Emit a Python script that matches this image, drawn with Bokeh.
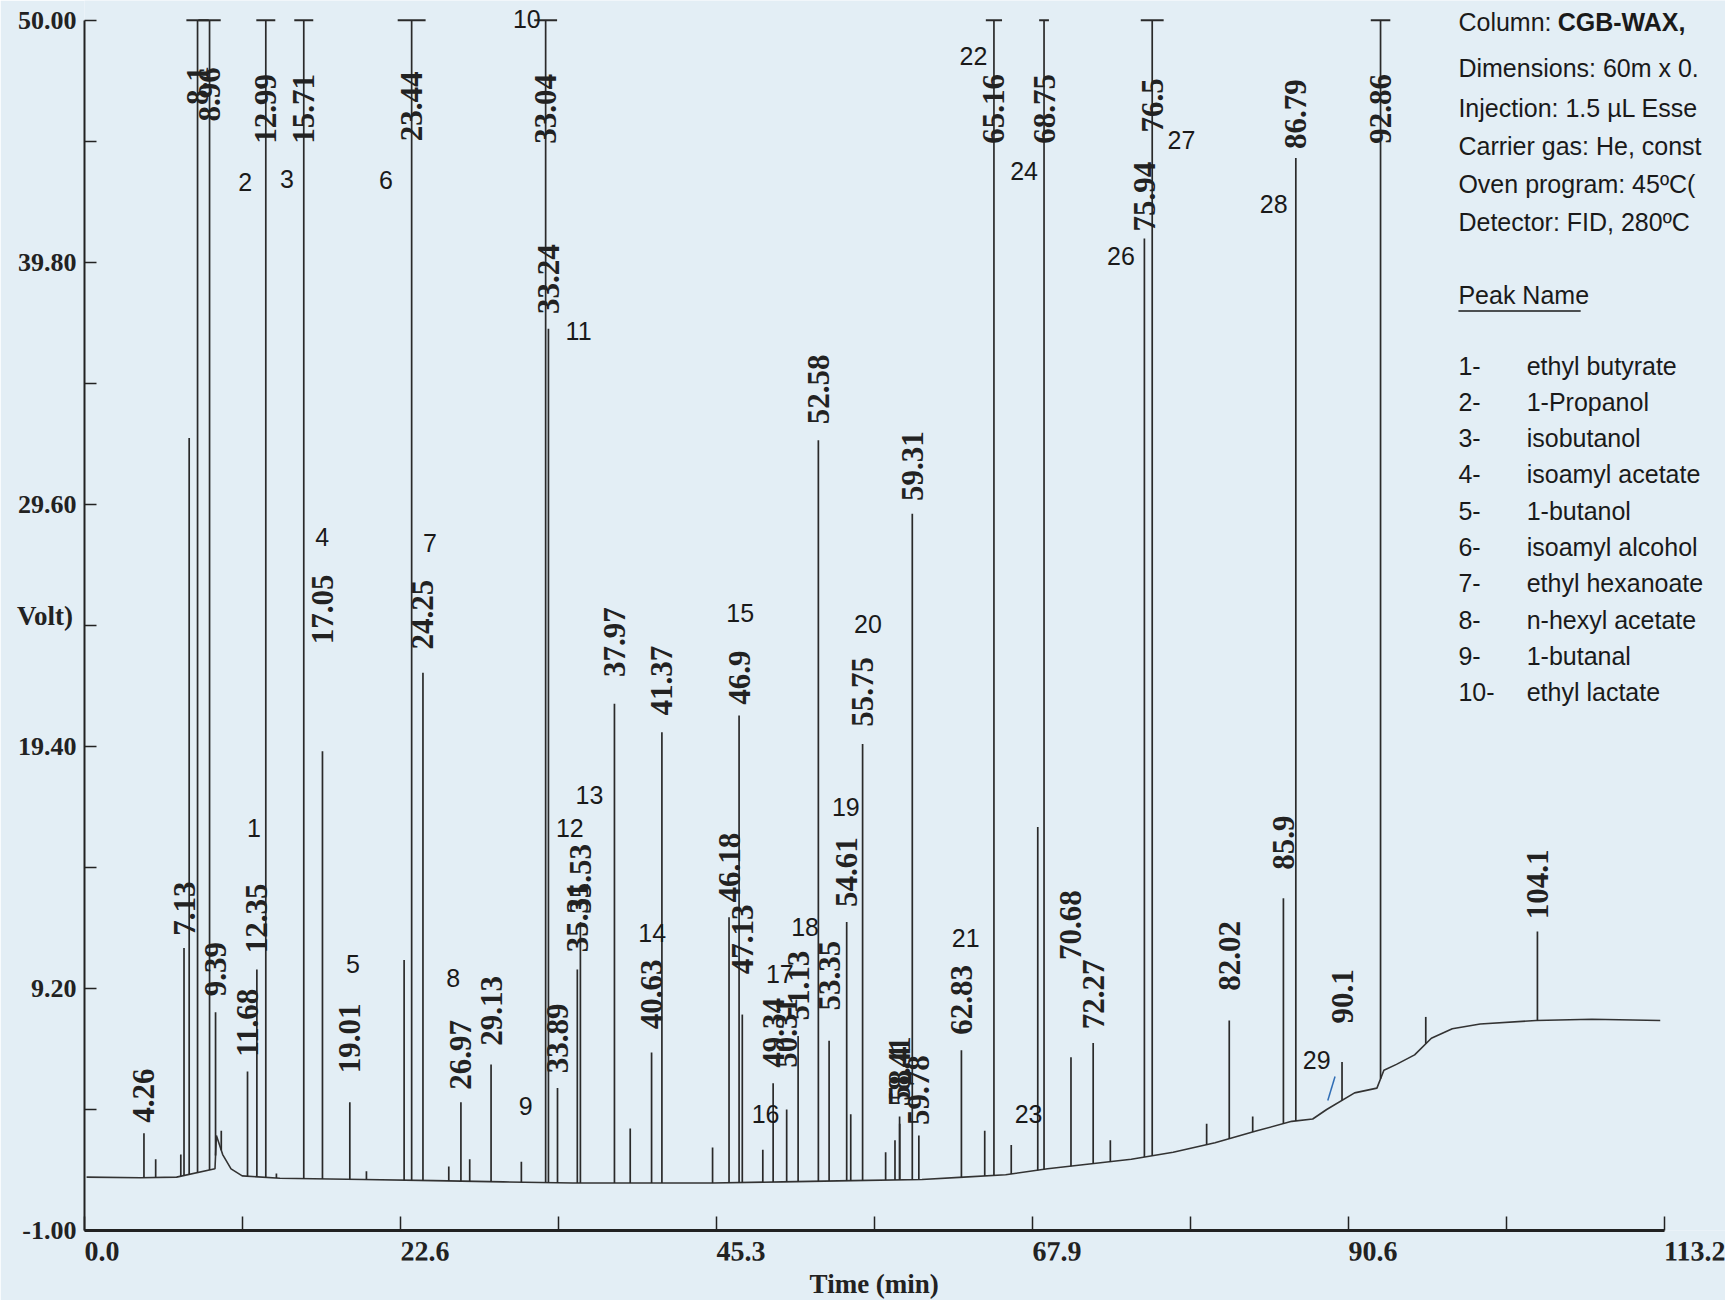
import numpy as np
from bokeh.plotting import figure
from bokeh.models import FixedTicker, Range1d, Title, PrintfTickFormatter
from bokeh.core.properties import value
from bokeh.embed import file_html
from bokeh.resources import INLINE

# ---------------- data ----------------
x_ticks = [0.0, 22.64, 45.28, 67.92, 90.56, 113.2]
x_tick_labels = ["0.0", "22.6", "45.3", "67.9", "90.6", "113.2"]
x_minor = [11.32, 33.96, 56.6, 79.24, 101.88]
y_ticks = [-1.0, 9.2, 19.4, 29.6, 39.8, 50.0]
y_tick_labels = ["-1.00", "9.20", "19.40", "29.60", "39.80", "50.00"]
y_minor = [4.1, 14.3, 24.5, 34.7, 44.9]
x_title = "Time (min)"
y_title = "Volt)"

# labelled peaks: retention time label and apex height (50 = off scale)
rt_labels = ["4.26", "7.13", "8.1", "8.96", "9.39", "11.68", "12.35", "12.99", "15.71", "17.05",
             "19.01", "23.44", "24.25", "26.97", "29.13", "33.04", "33.24", "33.89", "35.31", "35.53",
             "37.97", "40.63", "41.37", "46.18", "46.9", "47.13", "49.34", "50.31", "51.13", "52.58",
             "53.35", "54.61", "55.75", "58.4", "58.41", "59.31", "59.78", "62.83", "65.16", "68.75",
             "70.68", "72.27", "75.94", "76.5", "82.02", "85.9", "86.79", "90.1", "92.86", "104.1"]
rt_heights = [3.1, 10.9, 50.0, 50.0, 8.2, 5.7, 10.0, 50.0, 50.0, 19.2,
              4.4, 50.0, 22.5, 4.4, 6.0, 50.0, 37.0, 5.0, 10.0, 12.0,
              21.2, 6.5, 20.0, 12.2, 20.7, 8.1, 5.2, 4.1, 7.2, 32.3,
              7.0, 12.0, 19.5, 3.8, 3.5, 29.2, 3.0, 6.6, 50.0, 50.0,
              6.3, 6.9, 40.8, 50.0, 7.85, 13.0, 44.2, 6.1, 50.0, 11.6]

# unlabelled peaks
extra_times = [5.1, 6.9, 7.5, 9.8, 13.75, 20.2, 22.9, 26.1, 27.6, 31.3, 39.1, 45.0, 48.6,
               54.9, 57.4, 58.07, 64.5, 66.4, 68.3, 73.5, 80.4, 83.7, 96.1]
extra_heights = [2.0, 2.2, 32.4, 3.2, 1.4, 1.5, 10.4, 1.7, 2.0, 1.9, 3.3, 2.5, 2.4,
                 3.9, 2.3, 2.8, 3.2, 2.6, 16.0, 2.8, 3.5, 3.8, 8.0]

# baseline of the trace
base_times = [0.15, 4.0, 6.6, 9.35, 9.45, 9.9, 10.5, 11.3, 14.0, 20.0, 25.0, 30.0, 35.0, 40.0,
              45.0, 50.0, 55.0, 60.0, 63.0, 66.0, 69.0, 72.0, 75.0, 78.0, 81.0, 84.0, 86.5,
              88.0, 89.0, 91.0, 92.6, 93.1, 94.0, 95.3, 96.5, 98.0, 100.0, 104.0, 108.0, 112.9]
base_values = [1.25, 1.22, 1.25, 1.6, 3.0, 2.2, 1.6, 1.3, 1.2, 1.15, 1.1, 1.05, 1.0, 1.0,
               1.0, 1.05, 1.1, 1.15, 1.25, 1.35, 1.6, 1.8, 2.0, 2.3, 2.7, 3.2, 3.6,
               3.7, 4.1, 4.8, 5.0, 5.75, 6.0, 6.4, 7.1, 7.5, 7.7, 7.85, 7.9, 7.85]

peak_numbers = ["1", "2", "3", "4", "5", "6", "7", "8", "9", "10", "11", "12", "13", "14", "15",
                "16", "17", "18", "19", "20", "21", "22", "23", "24", "26", "27", "28", "29"]
peak_names = ["ethyl butyrate", "1-Propanol", "isobutanol", "isoamyl acetate", "1-butanol",
              "isoamyl alcohol", "ethyl hexanoate", "n-hexyl acetate", "1-butanal", "ethyl lactate"]
info_lines = ["Column: ", "Dimensions: 60m x 0.", "Injection: 1.5 \u00b5L Esse",
              "Carrier gas: He, const", "Oven program: 45\u00baC(", "Detector: FID, 280\u00baC"]
column_name = "CGB-WAX,"

# ---------------- layout / style ----------------
FULL = 50.0
BG = "#e3eef5"
INK = "#222222"
SERIF = "Liberation Serif"
SANS = "Liberation Sans"

# bottom of each rotated retention-time label (data units)
rt_label_y = [3.54, 11.42, 46.43, 45.73, 8.87, 6.32, 10.68, 44.8, 44.8, 23.71,
              5.63, 44.9, 23.48, 4.93, 6.79, 44.8, 37.62, 5.63, 10.73, 12.35,
              22.32, 7.48, 20.70, 12.82, 21.16, 9.80, 5.86, 5.86, 7.85, 32.98,
              8.27, 12.63, 20.23, 4.47, 4.24, 29.74, 3.45, 7.25, 44.8, 44.8,
              10.4, 7.48, 41.1, 45.27, 9.1, 14.2, 44.57, 7.72, 44.8, 12.12]
cap_half = {"8.1": 0.8, "8.96": 0.8, "12.99": 0.68, "15.71": 0.68, "23.44": 1.0,
            "33.04": 0.82, "65.16": 0.58, "68.75": 0.35, "76.5": 0.82, "92.86": 0.7}
num_x = [12.14, 11.51, 14.51, 17.03, 19.24, 21.6, 24.75, 26.41, 31.61, 31.69, 35.4, 34.77,
         36.18, 40.68, 46.98, 48.8, 49.82, 51.63, 54.55, 56.13, 63.14, 63.69, 67.64, 67.32,
         74.26, 78.59, 85.21, 88.29]
num_y = [15.97, 43.18, 43.32, 28.21, 10.22, 43.27, 27.98, 9.62, 4.24, 50.04, 36.92, 15.97,
         17.36, 11.52, 25.01, 3.91, 9.80, 11.80, 16.85, 24.54, 11.33, 48.51, 3.91, 43.65,
         40.08, 44.94, 42.25, 6.19]
INFO_X, NAME_X, COL_X = 98.44, 103.33, 105.55
info_y = [49.91, 47.97, 46.29, 44.69, 43.09, 41.48]
list_y = [35.45 - 1.53 * i for i in range(len(peak_names))]

W, H = 1725, 1300
LEFT, BOTTOM = 84, 70
PX_PER_MIN = 13.957
PX_PER_UNIT = 23.73
x_end = (W - LEFT) / PX_PER_MIN
y_end = -1 + (H - BOTTOM) / PX_PER_UNIT

p = figure(width=W, height=H, output_backend="svg", toolbar_location=None,
           x_range=Range1d(0, x_end), y_range=Range1d(-1, y_end),
           min_border_left=LEFT, min_border_right=0, min_border_top=0, min_border_bottom=BOTTOM)
p.background_fill_color = BG
p.border_fill_color = BG
p.outline_line_color = None
p.grid.visible = False

xa = p.xaxis[0]
xa.ticker = FixedTicker(ticks=x_ticks, minor_ticks=x_minor)
xa.formatter = PrintfTickFormatter(format="%.1f")
xa.major_label_overrides = {t: s for t, s in zip(x_ticks, x_tick_labels)}
xa.bounds = (x_ticks[0], x_ticks[-1])
xa.axis_line_width = 3
xa.axis_line_color = INK
xa.major_tick_in = 14
xa.major_tick_out = 0
xa.minor_tick_in = 14
xa.minor_tick_out = 0
xa.major_tick_line_color = INK
xa.minor_tick_line_color = INK
xa.major_tick_line_width = 1.5
xa.minor_tick_line_width = 1.5
xa.major_label_text_font = SERIF
xa.major_label_text_font_style = "bold"
xa.major_label_text_font_size = "28px"
xa.major_label_text_color = INK
xa.major_label_text_align = "left"
xa.major_label_orientation = -0.001   # near-horizontal: labels start at their tick
xa.major_label_standoff = 21

# x title, centred under the drawn axis (0 .. 113.2)
title_w = 129.7
p.add_layout(Title(text=x_title, align="left", vertical_align="middle",
                   offset=(x_ticks[-1] / 2) * PX_PER_MIN - title_w / 2,
                   text_font=SERIF, text_font_style="bold", text_font_size="27px",
                   text_color=INK, standoff=-9), "below")

ya = p.yaxis[0]
ya.ticker = FixedTicker(ticks=y_ticks, minor_ticks=y_minor)
ya.formatter = PrintfTickFormatter(format="%.2f")
ya.major_label_overrides = {t: s for t, s in zip(y_ticks, y_tick_labels)}
ya.bounds = (y_ticks[0], y_ticks[-1])
ya.axis_line_width = 2
ya.axis_line_color = INK
ya.major_tick_in = 12
ya.major_tick_out = 0
ya.minor_tick_in = 12
ya.minor_tick_out = 0
ya.major_tick_line_color = INK
ya.minor_tick_line_color = INK
ya.major_tick_line_width = 1.5
ya.minor_tick_line_width = 1.5
ya.major_label_text_font = SERIF
ya.major_label_text_font_style = "bold"
ya.major_label_text_font_size = "26px"
ya.major_label_text_color = INK
ya.major_label_standoff = 8
ya.axis_label = y_title
ya.axis_label_orientation = "horizontal"
ya.axis_label_text_font = SERIF
ya.axis_label_text_font_style = "bold"
ya.axis_label_text_font_size = "27px"
ya.axis_label_text_color = INK
ya.axis_label_standoff = -58

# trace: baseline + peaks
rt_times = [float(s) for s in rt_labels]
all_t = np.array(rt_times + extra_times)
all_h = np.array(rt_heights + extra_heights)
feet = np.interp(all_t, base_times, base_values)
p.line(base_times, base_values, line_color="#333333", line_width=1.6)
p.segment(x0=all_t, y0=feet, x1=all_t, y1=np.minimum(all_h, FULL),
          line_color="#2a2a2a", line_width=1.7)

# off-scale caps
cap_t = [t for t, h in zip(rt_times, rt_heights) if h >= FULL]
cap_w = [cap_half[s] for h, s in zip(rt_heights, rt_labels) if h >= FULL]
p.segment(x0=[t - w for t, w in zip(cap_t, cap_w)], x1=[t + w for t, w in zip(cap_t, cap_w)],
          y0=FULL, y1=FULL, line_color="#2a2a2a", line_width=2)

# retention time labels
p.text(x=rt_times, y=rt_label_y, text=rt_labels, angle=np.pi / 2, text_align="left",
       text_baseline="middle", text_font=value(SERIF), text_font_style="bold",
       text_font_size="31px", text_color=INK)

# peak numbers
p.text(x=num_x, y=num_y, text=peak_numbers, text_align="center", text_baseline="middle",
       text_font=value(SANS), text_font_size="25px", text_color="#1a1a1a")
# leader for peak 29
p.segment(x0=[89.6], y0=[5.49], x1=[89.08], y1=[4.48], line_color="#2f6db5", line_width=1.5)

# info block
p.text(x=[INFO_X] * len(info_lines), y=info_y, text=info_lines, text_align="left",
       text_baseline="middle", text_font=value(SANS), text_font_size="25px", text_color="#1a1a1a")
p.text(x=[COL_X], y=[info_y[0]], text=[column_name], text_align="left", text_baseline="middle",
       text_font=value(SANS), text_font_style="bold", text_font_size="25px", text_color="#1a1a1a")
p.text(x=[INFO_X], y=[38.41], text=["Peak Name"], text_align="left", text_baseline="middle",
       text_font=value(SANS), text_font_size="25px", text_color="#1a1a1a")
p.segment(x0=[INFO_X], y0=[37.75], x1=[107.2], y1=[37.75], line_color="#1a1a1a", line_width=1.5)
p.text(x=[INFO_X] * len(peak_names), y=list_y, text=[f"{i + 1}-" for i in range(len(peak_names))],
       text_align="left", text_baseline="middle", text_font=value(SANS), text_font_size="25px",
       text_color="#1a1a1a")
p.text(x=[NAME_X] * len(peak_names), y=list_y, text=peak_names, text_align="left",
       text_baseline="middle", text_font=value(SANS), text_font_size="25px", text_color="#1a1a1a")

open("out.html", "w").write(file_html(p, INLINE))
